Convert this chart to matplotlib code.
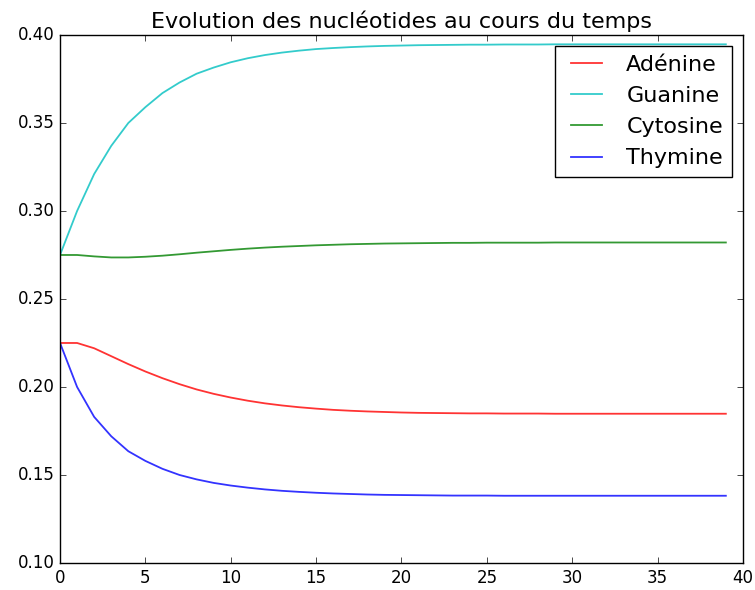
import matplotlib
matplotlib.use('Agg')
import matplotlib.pyplot as plt

plt.style.use('classic')

# time steps and nucleotide frequencies
t = list(range(40))
adenine = [0.225, 0.225, 0.222, 0.2175, 0.213, 0.2088, 0.2050, 0.2016, 0.1986, 0.1961,
           0.1940, 0.1922, 0.1907, 0.1895, 0.1885, 0.1877, 0.1870, 0.1865, 0.1861, 0.1858,
           0.1855, 0.1853, 0.1852, 0.1851, 0.1850, 0.1850, 0.1849, 0.1849, 0.1849, 0.1848,
           0.1848, 0.1848, 0.1848, 0.1848, 0.1848, 0.1848, 0.1848, 0.1848, 0.1848, 0.1848]
guanine = [0.275, 0.300, 0.321, 0.337, 0.350, 0.359, 0.367, 0.373, 0.378, 0.3815,
           0.3845, 0.3868, 0.3886, 0.3900, 0.3911, 0.3920, 0.3926, 0.3931, 0.3935, 0.3938,
           0.3940, 0.3942, 0.3943, 0.3944, 0.3945, 0.3945, 0.3946, 0.3946, 0.3946, 0.3947,
           0.3947, 0.3947, 0.3947, 0.3947, 0.3947, 0.3947, 0.3947, 0.3947, 0.3947, 0.3947]
cytosine = [0.275, 0.275, 0.2742, 0.2736, 0.2736, 0.2740, 0.2746, 0.2754, 0.2763, 0.2771,
            0.2779, 0.2786, 0.2792, 0.2797, 0.2801, 0.2805, 0.2808, 0.2811, 0.2813, 0.2815,
            0.2816, 0.2817, 0.2818, 0.2819, 0.2819, 0.2820, 0.2820, 0.2820, 0.2820, 0.2821,
            0.2821, 0.2821, 0.2821, 0.2821, 0.2821, 0.2821, 0.2821, 0.2821, 0.2821, 0.2821]
thymine = [0.225, 0.200, 0.183, 0.172, 0.1635, 0.158, 0.1535, 0.150, 0.1475, 0.1455,
           0.1440, 0.1428, 0.1418, 0.1410, 0.1404, 0.1399, 0.1395, 0.1392, 0.1389, 0.1387,
           0.1386, 0.1385, 0.1384, 0.1383, 0.1383, 0.1383, 0.1382, 0.1382, 0.1382, 0.1382,
           0.1382, 0.1382, 0.1382, 0.1382, 0.1382, 0.1382, 0.1382, 0.1382, 0.1382, 0.1382]

fig = plt.figure(figsize=(7.55, 5.9), dpi=100)
ax = fig.add_axes([0.0795, 0.0458, 0.9045, 0.8949])

lw = 1.3
ax.plot(t, adenine, color='r', alpha=0.8, lw=lw, label='Adénine')
ax.plot(t, guanine, color='c', alpha=0.8, lw=lw, label='Guanine')
ax.plot(t, cytosine, color='g', alpha=0.8, lw=lw, label='Cytosine')
ax.plot(t, thymine, color='b', alpha=0.8, lw=lw, label='Thymine')

ax.set_xlim(0, 40)
ax.set_ylim(0.10, 0.40)
ax.set_title('Evolution des nucléotides au cours du temps', fontsize=16)
ax.legend(loc='upper right', fontsize=16)

fig.savefig('out.png', dpi=100)
